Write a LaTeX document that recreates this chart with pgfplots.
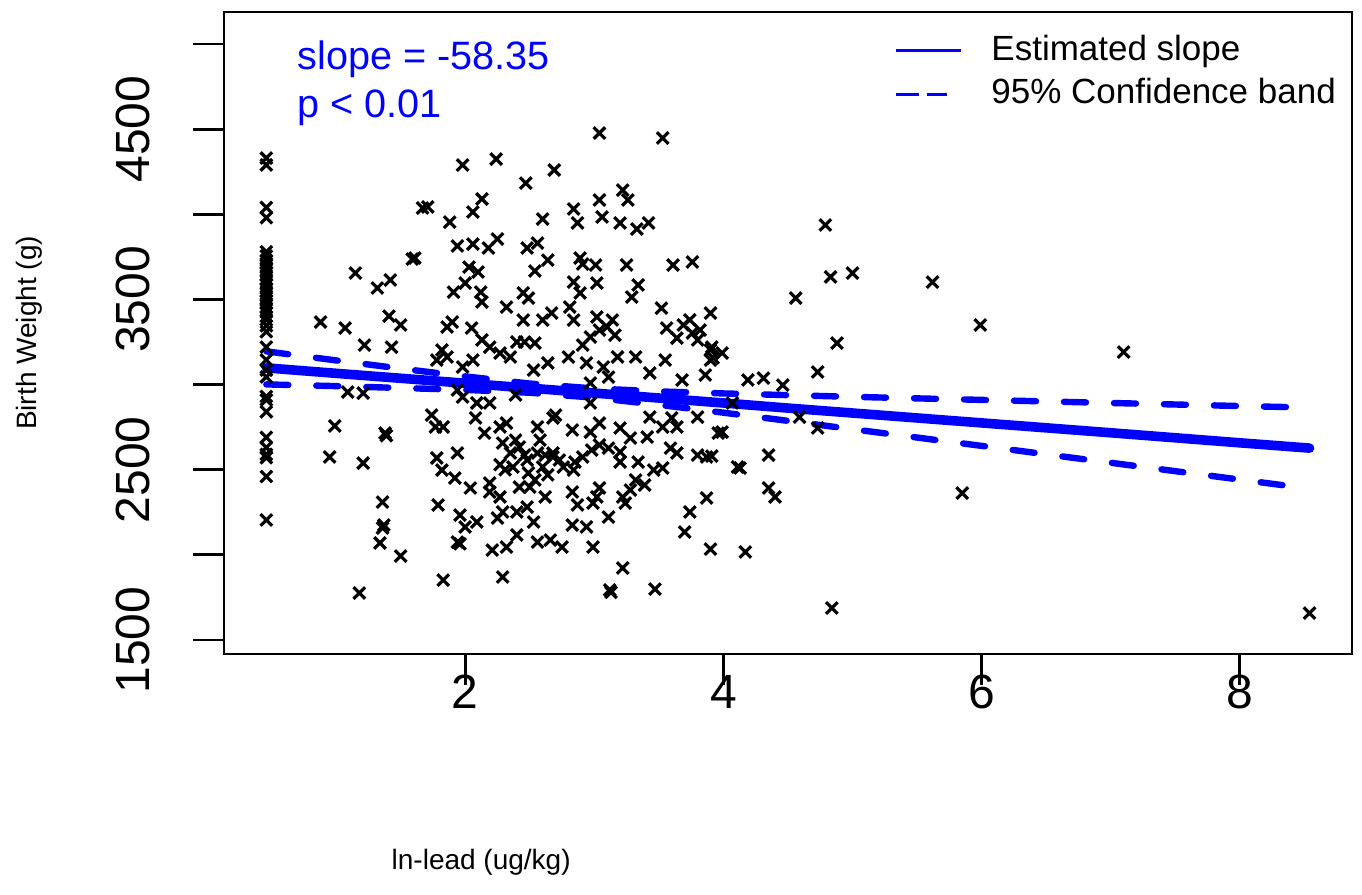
\documentclass[border=0pt]{standalone}
\usepackage{fontspec}
\setmainfont{Liberation Sans}
\usepackage{pgfplots}
\pgfplotsset{compat=1.18}

\pgfplotstableread{
x y
0.46 4330
0.46 4290
0.46 4040
0.46 3980
0.46 3780
0.46 3755
0.46 3730
0.46 3710
0.46 3685
0.46 3660
0.46 3640
0.46 3615
0.46 3590
0.46 3565
0.46 3545
0.46 3520
0.46 3495
0.46 3475
0.46 3450
0.46 3425
0.46 3400
0.46 3380
0.46 3345
0.46 3310
0.46 3220
0.46 3145
0.46 3085
0.46 3045
0.46 2930
0.46 2910
0.46 2840
0.46 2690
0.46 2630
0.46 2590
0.46 2570
0.46 2460
0.46 2205
1.15 3655
1.42 3614
1.32 3567
1.59 3737
0.88 3367
1.07 3332
1.41 3402
1.50 3350
1.22 3232
1.43 3220
1.09 2956
1.21 2950
1.67 4037
0.99 2757
1.38 2715
1.39 2700
0.95 2575
1.21 2539
1.36 2310
1.36 2158
1.37 2175
1.34 2070
1.50 1993
1.18 1776
1.98 4289
2.24 4324
2.47 4183
2.69 4260
1.71 4043
2.13 4090
2.06 4013
1.88 3954
2.60 3972
1.94 3814
2.06 3825
2.18 3802
2.25 3855
2.48 3802
2.56 3831
2.64 3731
2.54 3667
1.61 3743
2.03 3690
2.10 3661
1.91 3543
2.00 3596
2.12 3543
2.13 3485
2.32 3455
2.45 3538
2.49 3508
2.45 3379
2.67 3420
2.60 3379
1.86 3338
1.90 3367
2.05 3332
2.13 3262
2.19 3220
2.27 3185
2.35 3162
2.40 3250
2.46 3250
2.54 3244
1.82 3203
1.86 3162
1.78 3144
1.98 3103
2.06 3144
2.64 3127
2.53 3085
1.94 2968
1.98 2927
2.09 2892
2.19 2892
2.39 2939
1.74 2821
1.77 2751
1.83 2751
2.08 2804
2.15 2715
2.27 2751
2.32 2774
2.56 2751
2.68 2804
1.94 2598
1.78 2569
1.82 2498
1.92 2451
2.04 2393
2.29 2657
2.35 2598
2.42 2633
2.48 2557
2.56 2598
2.60 2516
2.68 2598
2.37 2516
2.49 2481
2.19 2422
2.19 2369
2.27 2340
2.42 2398
2.50 2398
2.62 2340
1.79 2293
1.96 2234
2.00 2164
2.09 2193
2.25 2216
2.29 2252
2.40 2252
2.48 2281
2.53 2193
1.94 2075
1.96 2065
2.21 2028
2.32 2046
2.40 2117
2.56 2075
2.66 2087
1.83 1852
2.29 1870
2.39 2674
2.58 2674
2.31 2500
2.54 2440
2.62 2586
2.46 2586
2.27 2530
2.64 2470
3.04 4477
3.53 4448
3.22 4142
3.26 4084
3.04 4084
2.84 4031
2.87 3949
3.06 3984
3.20 3949
3.33 3913
3.42 3949
2.89 3743
2.91 3708
3.01 3702
3.25 3702
3.61 3702
3.76 3720
2.84 3602
3.02 3596
3.34 3585
3.29 3514
2.89 3538
2.81 3455
2.84 3379
3.02 3397
3.14 3379
3.10 3338
2.97 3279
2.91 3232
3.52 3449
3.56 3332
3.69 3350
3.76 3303
3.64 3273
3.80 3262
3.90 3420
3.90 3203
2.80 3162
2.94 3127
3.07 3103
3.18 3162
3.32 3162
3.55 3144
3.11 3044
3.43 3068
3.68 3027
3.86 3056
3.92 3156
2.97 3009
3.04 3320
3.16 3290
3.74 3380
3.82 3320
2.97 2892
2.70 2821
2.83 2733
2.97 2721
3.04 2774
3.20 2745
3.28 2686
3.41 2692
3.43 2809
3.53 2751
3.60 2804
3.64 2751
3.80 2809
3.96 2715
2.68 2575
2.76 2516
2.84 2498
2.91 2575
2.98 2616
3.04 2645
3.11 2627
3.20 2604
3.20 2545
3.34 2545
3.46 2498
3.53 2510
3.59 2627
3.64 2598
3.80 2586
3.87 2575
3.32 2440
3.39 2410
3.28 2381
3.22 2340
3.04 2393
3.02 2340
2.83 2369
2.87 2293
2.99 2304
3.24 2304
3.11 2222
2.83 2175
2.94 2164
2.75 2046
2.99 2046
3.22 1923
3.12 1794
3.13 1780
3.47 1799
3.74 2252
3.87 2334
3.70 2134
3.90 2034
2.73 2557
2.85 2545
4.79 3937
4.83 3632
5.00 3655
4.56 3508
5.62 3602
5.99 3350
3.91 3220
3.99 3185
3.90 3144
4.19 3027
4.31 3038
4.46 2997
4.73 3074
4.88 3244
4.07 2892
4.59 2809
4.73 2745
3.99 2721
3.91 2580
4.11 2516
4.13 2510
4.35 2586
4.35 2393
4.40 2340
4.17 2017
4.84 1688
5.85 2363
7.10 3191
8.54 1658
}\births

% fitted line and 95% band
\pgfplotstableread{
x fit lo hi
0.46 3098 3001 3195
1.00 3066 2991 3142
1.50 3037 2980 3094
2.00 3008 2969 3048
2.50 2979 2952 3006
3.00 2950 2923 2977
3.50 2921 2881 2960
4.00 2892 2835 2948
4.50 2862 2787 2938
5.00 2833 2738 2928
6.00 2775 2640 2910
7.00 2717 2541 2892
8.00 2658 2442 2874
8.54 2627 2389 2865
}\band

\begin{document}
\begin{tikzpicture}
\path[use as bounding box] (-56pt,-60.25pt) rectangle (284.5pt,163.5pt);
\begin{axis}[
  at={(0,0)}, anchor=south west,
  scale only axis, width=282pt, height=160.5pt,
  xmin=0.132, xmax=8.869, ymin=1418, ymax=5188,
  axis line style={line width=0.7pt},
  tick style={line width=0.7pt, black},
  tick align=outside, tick pos=left, major tick length=7.75pt,
  /pgf/number format/assume math mode=true,
  xtick={2,4,6,8}, xticklabels={2,4,6,8},
  ytick={1500,2000,2500,3000,3500,4000,4500,5000},
  yticklabels={1500,,2500,,3500,,4500,},
  xticklabel style={font=\fontsize{12}{12}\selectfont, anchor=base, yshift=-6pt},
  yticklabel style={font=\fontsize{12}{12}\selectfont, xshift=-7.25pt, rotate=90, anchor=south},
  every axis x label/.style={at={(axis description cs:0.228,-0.324)}, anchor=center, font=\fontsize{7}{8}\selectfont},
  every axis y label/.style={at={(axis description cs:-0.1729,0.5)}, anchor=center, rotate=90, font=\fontsize{7}{8}\selectfont},
  xlabel={ln-lead (ug/kg)},
  ylabel={Birth Weight (g)},
  legend image code/.code={\draw[#1] (0pt,0pt) -- (16.25pt,0pt);},
  legend style={at={(rel axis cs:0.583,0.99)}, anchor=north west, draw=none, fill=none,
    font=\fontsize{8.75}{10}\selectfont, row sep=-1pt, column sep=5.25pt},
  legend cell align=left,
]
\addplot[only marks, mark=x, mark size=2.05pt, black, mark options={line width=0.8pt}, forget plot] table[x=x, y=y] {\births};
\addplot[blue, line width=2.4pt, line cap=round, forget plot] table[x=x, y=fit] {\band};
\addplot[blue, line width=1.6pt, line cap=round, dash pattern=on 5.5pt off 7pt, forget plot] table[x=x, y=hi] {\band};
\addplot[blue, line width=1.6pt, line cap=round, dash pattern=on 5.5pt off 7pt, forget plot] table[x=x, y=lo] {\band};
\addlegendimage{blue, line width=0.75pt}
\addlegendentry{Estimated slope}
\addlegendimage{blue, line width=0.75pt, dash pattern=on 5.75pt off 2pt on 5pt off 10pt}
\addlegendentry{95\% Confidence band}
\node[anchor=base west, text=blue, inner sep=0pt, font=\fontsize{9.9}{11}\selectfont] at (rel axis cs:0.0647,0.9097) {slope = -58.35};
\node[anchor=base west, text=blue, inner sep=0pt, font=\fontsize{9.9}{11}\selectfont] at (rel axis cs:0.0647,0.8364) {p < 0.01};
\end{axis}
\end{tikzpicture}
\end{document}
